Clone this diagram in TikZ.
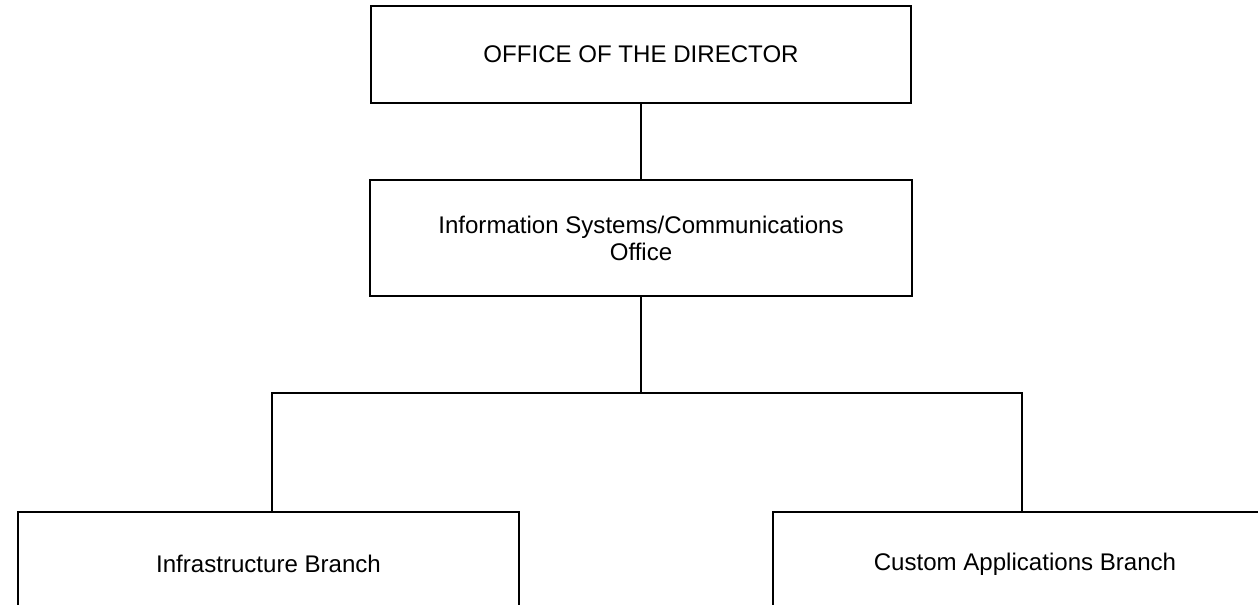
\documentclass[tikz,border=0pt]{standalone}
\usepackage{fontspec}
\setmainfont{Liberation Sans}
\usepackage{tikz}
\usetikzlibrary{calc}
\tikzset{
  office/.style={draw, line width=1pt, align=center, inner sep=0pt,
    font=\fontsize{13.7pt}{15.4pt}\selectfont},
  link/.style={line width=1pt}
}

\begin{document}
\begin{tikzpicture}[x=0.02cm,y=-0.02cm]
  \clip (0,0) rectangle (1258,605);
  \node[office, minimum width=10.8cm, minimum height=1.94cm] (dir) at (641,54.5) {OFFICE OF THE DIRECTOR};
  \node[office, minimum width=10.84cm, minimum height=2.32cm] (iso) at (641,238) {Information Systems/Communications\\Office};
  \node[office, minimum width=10.02cm, minimum height=2.08cm] (infra) at (268.5,564) {Infrastructure Branch};
  \node[office, minimum width=10.08cm, minimum height=2.08cm] (custom) at (1025,564) {Custom Applications Branch};
  % branch points on the bar
  \coordinate (ljn) at (272,393);
  \coordinate (rjn) at (1022,393);
  \draw[link] (dir.south) -- (iso.north);
  \draw[link] (iso.south) -- (iso.south |- ljn);
  \draw[link] (infra.north -| ljn) -- (ljn) -- (rjn) -- (custom.north -| rjn);
\end{tikzpicture}
\end{document}
